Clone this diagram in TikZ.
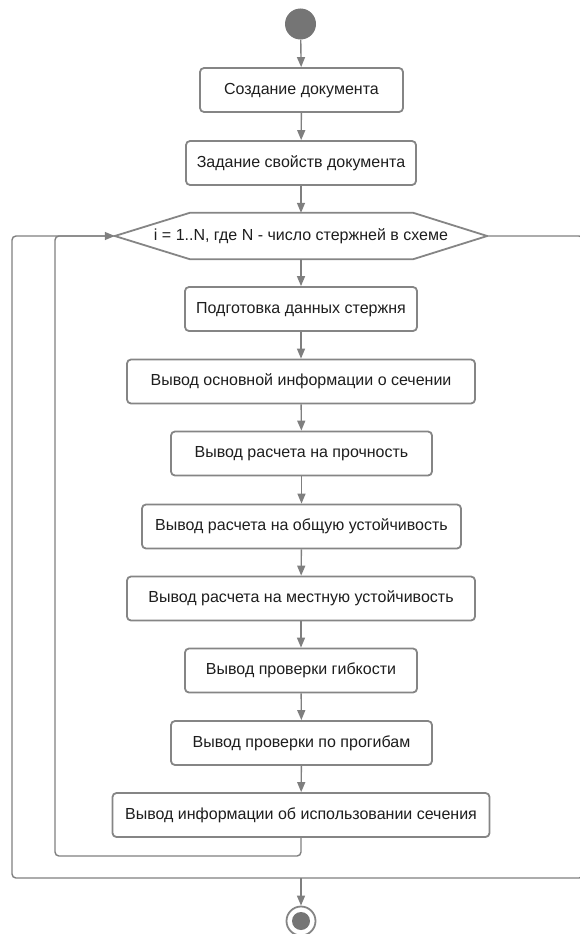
\documentclass[tikz,border=0pt]{standalone}
\usepackage{fontspec}
\setmainfont{Liberation Sans}
\usetikzlibrary{arrows.meta,calc}
\definecolor{lnc}{HTML}{7F7F7F}
\definecolor{bdc}{HTML}{858585}
\definecolor{txc}{HTML}{1E1E1E}
\definecolor{dotc}{HTML}{757575}
\tikzset{
  labeltext/.style={text=txc, font=\fontsize{16}{19}\selectfont, text height=11pt, text depth=2.4pt},
  stepbox/.style={labeltext, draw=bdc, line width=1.8pt, rounded corners=4pt, fill=white,
    minimum height=44pt, inner sep=0pt},
  conn/.style={draw=lnc, line width=1.4pt},
  arr/.style={conn, -{Triangle[length=10pt,width=8pt]}},
}
\begin{document}
\begin{tikzpicture}[x=1pt,y=-1pt]
\useasboundingbox (0,0) rectangle (579,934);
\node[circle, fill=dotc, minimum size=31pt, inner sep=0pt] (start) at (300.5,24) {};
\node[stepbox, minimum width=203pt] (b1) at (301.5,90) {Создание документа};
\node[stepbox, minimum width=230pt] (b2) at (301,163) {Задание свойств документа};
\node[minimum width=372pt, minimum height=46pt, inner sep=0pt] (hex) at (301,236) {};
\draw[draw=bdc, line width=1.8pt, fill=white, line join=round]
  (hex.west) -- ($(hex.north west)+(75,0)$) -- ($(hex.north east)+(-74,0)$) -- (hex.east)
  -- ($(hex.south east)+(-74,0)$) -- ($(hex.south west)+(75,0)$) -- cycle;
\node[labeltext, inner sep=0pt] (hextext) at (hex.center) {i = 1..N, где N - число стержней в схеме};
\node[stepbox, minimum width=232pt] (b3) at (301,309) {Подготовка данных стержня};
\node[stepbox, minimum width=348pt] (b4) at (301,381.5) {Вывод основной информации о сечении};
\node[stepbox, minimum width=261pt] (b5) at (301.5,453.5) {Вывод расчета на прочность};
\node[stepbox, minimum width=319pt] (b6) at (301.5,526.5) {Вывод расчета на общую устойчивость};
\node[stepbox, minimum width=348pt] (b7) at (301,598.5) {Вывод расчета на местную устойчивость};
\node[stepbox, minimum width=232pt] (b8) at (301,670.5) {Вывод проверки гибкости};
\node[stepbox, minimum width=261pt] (b9) at (301.5,743) {Вывод проверки по прогибам};
\node[stepbox, minimum width=377pt] (b10) at (301,815) {Вывод информации об использовании сечения};
\node[circle, draw=bdc, line width=1.8pt, fill=white, minimum size=29pt, inner sep=0pt] (end) at (301,921) {};
\node[circle, fill=dotc, minimum size=18pt, inner sep=0pt] (endin) at (end.center) {};
\coordinate (innerL) at (55,856);
\coordinate (outR) at (583,878);
\coordinate (outL) at (12,878);
\draw[arr] (start) -- (b1);
\draw[arr] (b1) -- (b2);
\draw[arr] (b2) -- (hex.north);
\draw[arr] (hex.south) -- (b3);
\draw[arr] (b3) -- (b4);
\draw[arr] (b4) -- (b5);
\draw[arr] (b5) -- (b6);
\draw[arr] (b6) -- (b7);
\draw[arr] (b7) -- (b8);
\draw[arr] (b8) -- (b9);
\draw[arr] (b9) -- (b10);
\draw[conn, rounded corners=4pt] (hex.east) -| (outR) -- (outL) |- (hex.west);
\draw[arr, rounded corners=4pt] (b10.south) |- (innerL) |- (hex.west);
\draw[arr] (end.north |- outL) -- (end.north);
\end{tikzpicture}
\end{document}
